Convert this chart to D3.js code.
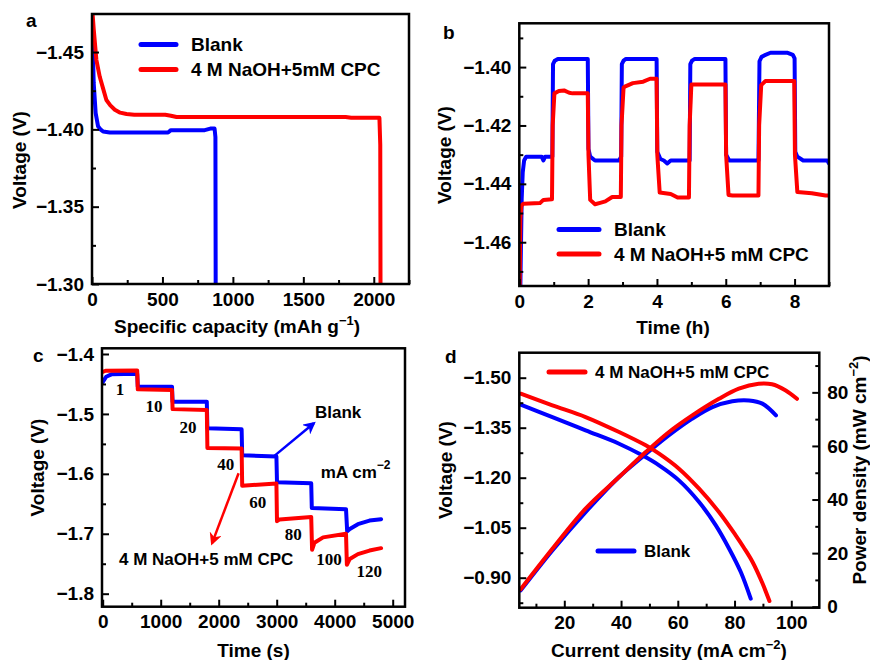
<!DOCTYPE html>
<html>
<head>
<meta charset="utf-8">
<style>
  body { margin: 0; background: #fff; }
  svg { display: block; font-family: "Liberation Sans", Arial, sans-serif; font-weight: bold; }
  .tick text { font-family: "Liberation Sans", Arial, sans-serif; font-weight: bold; font-size: 19px; fill: #000; }
  .tick line { stroke: #000; stroke-width: 2; }
</style>
</head>
<body>
<svg width="870" height="660"></svg>
<script src="https://cdn.jsdelivr.net/npm/d3@7"></script>
<script>
  // ---- panel a: discharge curves
  var aBlankCap = [0, 5, 12, 26, 43, 60, 79, 126, 300, 540, 560, 800, 840, 870, 876, 878];
  var aBlankV = [-1.474, -1.455, -1.430, -1.4105, -1.402, -1.400, -1.3986, -1.398, -1.398, -1.398, -1.3995, -1.3995, -1.4005, -1.4005, -1.395, -1.29];
  var aRedCap = [3, 12, 31, 55, 80, 102, 130, 162, 200, 245, 300, 520, 560, 600, 1800, 1840, 2040, 2046, 2048];
  var aRedV = [-1.476, -1.465, -1.445, -1.434, -1.426, -1.419, -1.4155, -1.4127, -1.4108, -1.4099, -1.4094, -1.4094, -1.4088, -1.408, -1.408, -1.4075, -1.4075, -1.39, -1.29];

  // ---- panel b: intermittent discharge
  var bBlankT = [0.03, 0.05, 0.07, 0.1, 0.14, 0.2, 0.65, 0.7, 0.75, 0.96, 0.98, 1.03, 1.12, 1.99, 2.01, 2.06, 2.2, 2.9, 2.96, 2.98, 3.03, 3.1, 3.99, 4.01, 4.1, 4.2, 4.3, 4.4, 4.95, 4.97, 5.02, 5.1, 5.99, 6.01, 6.1, 6.95, 6.98, 7.04, 7.12, 7.3, 7.8, 7.95, 8.0, 8.02, 8.08, 8.25, 8.95, 9.0];
  var bBlankV = [-1.476, -1.46, -1.445, -1.436, -1.432, -1.4307, -1.4307, -1.432, -1.4307, -1.4307, -1.399, -1.3978, -1.3972, -1.3972, -1.428, -1.4307, -1.432, -1.432, -1.4307, -1.399, -1.3978, -1.3972, -1.3972, -1.429, -1.4315, -1.432, -1.433, -1.432, -1.432, -1.399, -1.3978, -1.3972, -1.3972, -1.43, -1.432, -1.432, -1.398, -1.3965, -1.396, -1.3951, -1.3951, -1.3958, -1.397, -1.429, -1.4307, -1.432, -1.432, -1.433];
  var bRedT = [0.01, 0.03, 0.06, 0.12, 0.6, 0.7, 0.95, 0.97, 1.02, 1.15, 1.3, 1.45, 1.55, 1.99, 2.01, 2.06, 2.2, 2.35, 2.5, 2.7, 2.95, 2.97, 3.03, 3.1, 3.3, 3.6, 3.8, 3.99, 4.01, 4.08, 4.4, 4.6, 4.93, 4.95, 5.0, 5.99, 6.01, 6.08, 6.2, 6.95, 6.97, 7.03, 7.15, 7.99, 8.01, 8.08, 8.5, 8.9, 9.0];
  var bRedV = [-1.476, -1.452, -1.4475, -1.4468, -1.4466, -1.4455, -1.4453, -1.42, -1.409, -1.4082, -1.408, -1.4088, -1.409, -1.409, -1.43, -1.4455, -1.447, -1.4465, -1.446, -1.4445, -1.4445, -1.42, -1.407, -1.4065, -1.4055, -1.405, -1.404, -1.404, -1.43, -1.443, -1.4435, -1.4447, -1.4447, -1.42, -1.406, -1.406, -1.43, -1.4438, -1.444, -1.444, -1.42, -1.4062, -1.4048, -1.4048, -1.43, -1.4428, -1.4432, -1.444, -1.444];

  // ---- panel c: rate steps
  var cBlankT = [0, 60, 150, 595, 605, 1195, 1205, 1795, 1805, 2395, 2405, 2995, 3005, 3595, 3605, 4195, 4215, 4260, 4400, 4600, 4800];
  var cBlankV = [-1.447, -1.438, -1.434, -1.433, -1.4545, -1.4545, -1.4795, -1.4795, -1.524, -1.5256, -1.569, -1.571, -1.614, -1.6156, -1.657, -1.659, -1.696, -1.692, -1.684, -1.678, -1.6756];
  var cRedT = [0, 50, 595, 605, 1195, 1205, 1795, 1805, 2395, 2405, 2995, 3005, 3050, 3595, 3610, 3650, 3800, 4195, 4210, 4260, 4400, 4600, 4800];
  var cRedV = [-1.43, -1.428, -1.4275, -1.459, -1.46, -1.492, -1.4935, -1.557, -1.5578, -1.62, -1.616, -1.679, -1.676, -1.672, -1.7267, -1.715, -1.706, -1.70, -1.7517, -1.742, -1.734, -1.728, -1.724];
  var cStepLabels = ["1", "10", "20", "40", "60", "80", "100", "120"];
  var cStepT = [298, 884, 1471, 2121, 2672, 3286, 3902, 4597];
  var cStepV = [-1.4588, -1.4867, -1.521, -1.5838, -1.6467, -1.70, -1.7412, -1.7612];

  // ---- panel d: polarization and power
  var dRedI = [4.63, 15.8, 27.5, 39.3, 48.7, 53.4, 60.4, 67.5, 74.5, 80.4, 83.3, 86.3, 89.8, 92.3];
  var dRedV = [-1.452, -1.417, -1.382, -1.337, -1.297, -1.272, -1.227, -1.167, -1.097, -1.027, -0.99, -0.948, -0.884, -0.83];
  var dBlankI = [4.63, 15.8, 27.5, 39.3, 47.5, 53.4, 60.4, 67.5, 73.4, 78.1, 82.2, 85.7];
  var dBlankV = [-1.419, -1.382, -1.342, -1.302, -1.267, -1.237, -1.192, -1.127, -1.057, -0.987, -0.917, -0.837];
  var dRedPI = [4.63, 15.8, 27.5, 39.3, 48.7, 56.9, 65.1, 74.5, 81.5, 88.5, 93.2, 97.9, 102];
  var dRedP = [6.5, 21.6, 36.6, 48.4, 57.7, 65.2, 71.4, 77.6, 81.4, 83.2, 83.0, 80.8, 77.6];
  var dBlankPI = [4.63, 15.8, 27.5, 39.3, 47.5, 56.9, 65.1, 72.2, 79.2, 85.1, 89.8, 94.6];
  var dBlankP = [6.1, 21.0, 35.3, 48.4, 55.9, 64.0, 70.2, 74.5, 76.7, 77.0, 75.8, 71.4];

  var BLUE = "#0000ff", RED = "#ff0000";
  var svg = d3.select("svg");
  var defs = svg.append("defs");
  var clipId = 0;

  function zip(xs, ys) { return xs.map(function(v, i) { return [v, ys[i]]; }); }

  function makePanel(box) {
    var g = svg.append("g");
    var id = "clip" + (clipId++);
    defs.append("clipPath").attr("id", id).append("rect")
      .attr("x", box.l).attr("y", box.t).attr("width", box.r - box.l).attr("height", box.b - box.t);
    var plot = g.append("g").attr("clip-path", "url(#" + id + ")");
    return { g: g, plot: plot, box: box };
  }

  function axis(p, gen, pos, ticks, minor, fmt, pad) {
    var major = p.g.append("g").attr("transform", pos)
      .call(gen.tickValues(ticks).tickFormat(fmt).tickSizeInner(-7).tickSizeOuter(0).tickPadding(pad));
    major.select(".domain").remove();
    if (minor) {
      var m = p.g.append("g").attr("transform", pos)
        .call(gen.tickValues(minor).tickFormat("").tickSizeInner(-4).tickSizeOuter(0));
      m.select(".domain").remove();
    }
  }

  function frame(p) {
    var b = p.box;
    p.g.append("rect").attr("x", b.l).attr("y", b.t).attr("width", b.r - b.l).attr("height", b.b - b.t)
      .attr("fill", "none").attr("stroke", "#000").attr("stroke-width", 2.5);
  }

  function curve(p, x, y, pts, color, smooth) {
    var line = d3.line().x(function(d) { return x(d[0]); }).y(function(d) { return y(d[1]); });
    if (smooth) line.curve(d3.curveCatmullRom.alpha(0.5));
    p.plot.append("path").datum(pts).attr("d", line)
      .attr("fill", "none").attr("stroke", color).attr("stroke-width", 4)
      .attr("stroke-linejoin", "round").attr("stroke-linecap", "round");
  }

  function ylabel(p, x, y, txt, sup, after) {
    var t = p.g.append("text").attr("transform", "translate(" + x + "," + y + ") rotate(-90)")
      .attr("text-anchor", "middle").attr("font-size", 19);
    t.append("tspan").text(txt);
    if (sup) {
      t.append("tspan").attr("font-size", 13).attr("dy", -8).text(sup);
      t.append("tspan").attr("dy", 8).text(after);
    }
  }

  function xlabel(p, x, y, txt, sup, after) {
    var t = p.g.append("text").attr("x", x).attr("y", y).attr("text-anchor", "middle").attr("font-size", 19);
    t.append("tspan").text(txt);
    if (sup) {
      t.append("tspan").attr("font-size", 13).attr("dy", -8).text(sup);
      t.append("tspan").attr("dy", 8).text(after);
    }
  }

  function legendRow(p, x1, x2, y, color, label, size) {
    p.g.append("line").attr("x1", x1).attr("x2", x2).attr("y1", y).attr("y2", y)
      .attr("stroke", color).attr("stroke-width", 5).attr("stroke-linecap", "round");
    p.g.append("text").attr("x", x2 + (size > 18 ? 15 : 10)).attr("y", y).attr("dy", "0.36em")
      .attr("font-size", size).text(label);
  }

  function letter(x, y, s) {
    svg.append("text").attr("x", x).attr("y", y).attr("font-size", 19).text(s);
  }

  // ================= a
  var pa = makePanel({ l: 92, r: 409, t: 14, b: 284 });
  var xa = d3.scaleLinear().domain([0, 2250]).range([pa.box.l, pa.box.r]);
  var ya = d3.scaleLinear().domain([-1.30, -1.4746]).range([pa.box.b, pa.box.t]);
  curve(pa, xa, ya, zip(aBlankCap, aBlankV), BLUE);
  curve(pa, xa, ya, zip(aRedCap, aRedV), RED);
  axis(pa, d3.axisBottom(xa), "translate(0," + pa.box.b + ")", [0, 500, 1000, 1500, 2000], [250, 750, 1250, 1750, 2250], d3.format("d"), 9);
  axis(pa, d3.axisLeft(ya), "translate(" + pa.box.l + ",0)", [-1.30, -1.35, -1.40, -1.45], [-1.325, -1.375, -1.425], d3.format(".2f"), 8);
  frame(pa);
  legendRow(pa, 141, 176, 44.5, BLUE, "Blank", 19);
  legendRow(pa, 141, 176, 69.5, RED, "4 M NaOH+5mM CPC", 19);
  ylabel(pa, 26, 160, "Voltage (V)");
  xlabel(pa, 237, 333, "Specific capacity (mAh g", "\u22121", ")");
  letter(26, 27, "a");

  // ================= b
  var pb = makePanel({ l: 519.3, r: 829, t: 23.3, b: 286 });
  var xb = d3.scaleLinear().domain([0, 9]).range([pb.box.l, pb.box.r]);
  var yb = d3.scaleLinear().domain([-1.475, -1.385]).range([pb.box.b, pb.box.t]);
  curve(pb, xb, yb, zip(bBlankT, bBlankV), BLUE);
  curve(pb, xb, yb, zip(bRedT, bRedV), RED);
  axis(pb, d3.axisBottom(xb), "translate(0," + pb.box.b + ")", [0, 2, 4, 6, 8], [1, 3, 5, 7, 9], d3.format("d"), 9);
  axis(pb, d3.axisLeft(yb), "translate(" + pb.box.l + ",0)", [-1.40, -1.42, -1.44, -1.46], [-1.39, -1.41, -1.43, -1.45, -1.47], d3.format(".2f"), 8);
  frame(pb);
  legendRow(pb, 559, 599, 229.5, BLUE, "Blank", 19);
  legendRow(pb, 559, 599, 254, RED, "4 M NaOH+5 mM CPC", 19);
  ylabel(pb, 450.5, 155, "Voltage (V)");
  xlabel(pb, 673, 333.5, "Time (h)");
  letter(443, 39, "b");

  // ================= c
  var pc = makePanel({ l: 102, r: 405, t: 348.3, b: 606.7 });
  var xc = d3.scaleLinear().domain([-12, 5212]).range([pc.box.l, pc.box.r]);
  var yc = d3.scaleLinear().domain([-1.8217, -1.3905]).range([pc.box.b, pc.box.t]);
  curve(pc, xc, yc, zip(cBlankT, cBlankV), BLUE);
  curve(pc, xc, yc, zip(cRedT, cRedV), RED);
  axis(pc, d3.axisBottom(xc), "translate(0," + pc.box.b + ")", [0, 1000, 2000, 3000, 4000, 5000], [500, 1500, 2500, 3500, 4500], d3.format("d"), 8);
  axis(pc, d3.axisLeft(yc), "translate(" + pc.box.l + ",0)", [-1.4, -1.5, -1.6, -1.7, -1.8], [-1.45, -1.55, -1.65, -1.75], d3.format(".1f"), 8);
  frame(pc);

  // step labels (serif)
  pc.g.selectAll(".step").data(cStepLabels).enter().append("text")
    .attr("x", function(d, i) { return xc(cStepT[i]); })
    .attr("y", function(d, i) { return yc(cStepV[i]); })
    .attr("dy", "0.36em").attr("text-anchor", "middle")
    .attr("font-family", "'Liberation Serif', 'Times New Roman', serif").attr("font-size", 17)
    .text(function(d) { return d; });

  // arrows
  [["arrB", BLUE], ["arrR", RED]].forEach(function(a) {
    defs.append("marker").attr("id", a[0]).attr("viewBox", "0 0 10 10").attr("refX", 8).attr("refY", 5)
      .attr("markerWidth", 5).attr("markerHeight", 5).attr("orient", "auto")
      .append("path").attr("d", "M0,0 L10,5 L0,10 L3,5 Z").attr("fill", a[1]);
  });
  pc.g.append("line").attr("x1", xc(2960)).attr("y1", yc(-1.57)).attr("x2", xc(3640)).attr("y2", yc(-1.5156))
    .attr("stroke", BLUE).attr("stroke-width", 2.5).attr("marker-end", "url(#arrB)");
  pc.g.append("line").attr("x1", xc(2343)).attr("y1", yc(-1.599)).attr("x2", xc(1886)).attr("y2", yc(-1.7156))
    .attr("stroke", RED).attr("stroke-width", 2.5).attr("marker-end", "url(#arrR)");
  pc.g.append("text").attr("x", xc(3660)).attr("y", yc(-1.4962)).attr("dy", "0.36em").attr("font-size", 17).text("Blank");
  var mt = pc.g.append("text").attr("x", xc(3759)).attr("y", yc(-1.5962)).attr("dy", "0.36em").attr("font-size", 17);
  mt.append("tspan").text("mA cm");
  mt.append("tspan").attr("font-size", 12).attr("dy", "-0.7em").text("\u22122");
  pc.g.append("text").attr("x", xc(281)).attr("y", yc(-1.742)).attr("dy", "0.36em").attr("font-size", 17).text("4 M NaOH+5 mM CPC");
  ylabel(pc, 43.5, 467.5, "Voltage (V)");
  xlabel(pc, 253.5, 657, "Time (s)");
  letter(33, 362, "c");

  // ================= d
  var pd = makePanel({ l: 519.3, r: 819.3, t: 352.7, b: 607.7 });
  var xd = d3.scaleLinear().domain([4.14, 109.87]).range([pd.box.l, pd.box.r]);
  var yd = d3.scaleLinear().domain([-0.81, -1.575]).range([pd.box.b, pd.box.t]);
  var yp = d3.scaleLinear().domain([-0.37, 94.8]).range([pd.box.b, pd.box.t]);
  curve(pd, xd, yd, zip(dBlankI, dBlankV), BLUE, true);
  curve(pd, xd, yp, zip(dBlankPI, dBlankP), BLUE, true);
  curve(pd, xd, yd, zip(dRedI, dRedV), RED, true);
  curve(pd, xd, yp, zip(dRedPI, dRedP), RED, true);
  axis(pd, d3.axisBottom(xd), "translate(0," + pd.box.b + ")", [20, 40, 60, 80, 100], [10, 30, 50, 70, 90], d3.format("d"), 8);
  axis(pd, d3.axisLeft(yd), "translate(" + pd.box.l + ",0)", [-1.50, -1.35, -1.20, -1.05, -0.90], [-1.425, -1.275, -1.125, -0.975, -0.825], d3.format(".2f"), 8);
  axis(pd, d3.axisRight(yp), "translate(" + pd.box.r + ",0)", [0, 20, 40, 60, 80], [10, 30, 50, 70, 90], d3.format("d"), 8);
  frame(pd);
  legendRow(pd, 549, 585, 372, RED, "4 M NaOH+5 mM CPC", 17);
  legendRow(pd, 598, 634, 551, BLUE, "Blank", 17);
  ylabel(pd, 452, 470, "Voltage (V)");
  ylabel(pd, 866, 470, "Power density (mW cm", "\u22122", ")");
  xlabel(pd, 669, 657, "Current density (mA cm", "\u22122", ")");
  letter(445, 363, "d");
</script>
</body>
</html>
